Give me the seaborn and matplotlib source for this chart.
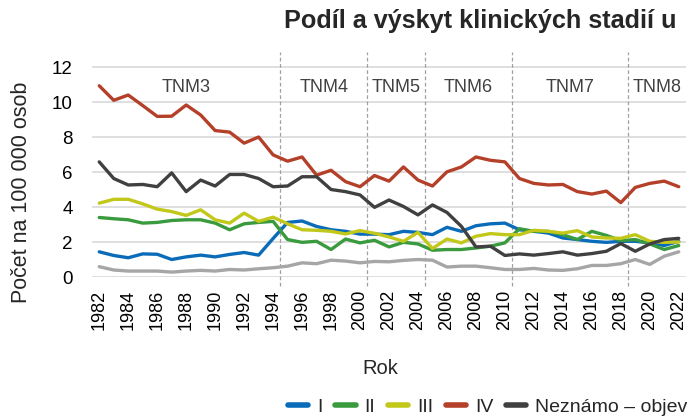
import matplotlib
matplotlib.use("Agg")
import matplotlib.pyplot as plt
import seaborn as sns
import pandas as pd
import numpy as np
from matplotlib.lines import Line2D

years = list(range(1982, 2023))

stage_I = [1.44, 1.23, 1.10, 1.32, 1.30, 1.00, 1.15, 1.25, 1.15, 1.29, 1.40, 1.25, 2.20, 3.12,
           3.20, 2.89, 2.70, 2.61, 2.45, 2.45, 2.42, 2.61, 2.55, 2.42, 2.84, 2.61, 2.93, 3.04,
           3.08, 2.70, 2.61, 2.51, 2.23, 2.14, 2.04, 1.98, 2.04, 2.04, 1.95, 1.80, 2.04]
stage_II = [3.40, 3.33, 3.27, 3.08, 3.12, 3.23, 3.27, 3.27, 3.08, 2.70, 3.04, 3.12, 3.18, 2.14,
            1.98, 2.04, 1.57, 2.17, 1.95, 2.10, 1.72, 1.98, 1.89, 1.53, 1.57, 1.57, 1.66, 1.76,
            1.95, 2.76, 2.61, 2.61, 2.42, 2.14, 2.61, 2.38, 2.08, 2.14, 1.89, 1.57, 1.80]
stage_III = [4.22, 4.44, 4.44, 4.18, 3.88, 3.74, 3.52, 3.84, 3.27, 3.08, 3.65, 3.18, 3.42, 3.04,
             2.70, 2.67, 2.61, 2.46, 2.65, 2.50, 2.29, 2.04, 2.55, 1.63, 2.17, 1.95, 2.33, 2.48,
             2.42, 2.42, 2.67, 2.61, 2.51, 2.65, 2.29, 2.23, 2.21, 2.42, 2.04, 1.98, 2.00]
stage_IV = [10.93, 10.10, 10.40, 9.80, 9.18, 9.19, 9.83, 9.26, 8.37, 8.28, 7.65, 8.00, 6.98, 6.62,
            6.86, 5.82, 6.10, 5.45, 5.16, 5.80, 5.48, 6.29, 5.54, 5.20, 6.01, 6.29, 6.86, 6.67,
            6.58, 5.63, 5.35, 5.26, 5.29, 4.88, 4.74, 4.91, 4.25, 5.12, 5.35, 5.48, 5.16]
unknown_a = [6.58, 5.63, 5.26, 5.29, 5.16, 5.95, 4.88, 5.54, 5.20, 5.86, 5.86, 5.63, 5.16, 5.20,
             5.73, 5.73, 5.00, 4.88, 4.69, 3.98, 4.40, 4.03, 3.55, 4.12, 3.69, 2.89, 1.72, 1.76,
             1.23, 1.32, 1.25, 1.34, 1.44, 1.25, 1.34, 1.47, 1.91, 1.47, 1.89, 2.14, 2.21]
unknown_b = [0.59, 0.40, 0.34, 0.34, 0.34, 0.28, 0.34, 0.38, 0.34, 0.43, 0.40, 0.47, 0.53, 0.62,
             0.81, 0.76, 0.96, 0.91, 0.81, 0.89, 0.87, 0.95, 1.00, 0.96, 0.57, 0.62, 0.62, 0.53,
             0.43, 0.43, 0.49, 0.40, 0.38, 0.47, 0.66, 0.66, 0.76, 1.00, 0.72, 1.19, 1.44]

series_names = ["I", "II", "III", "IV", "Neznámo – objeveno při pitvě", "Neznámo – ostatní"]
series_values = [stage_I, stage_II, stage_III, stage_IV, unknown_a, unknown_b]
colors = ["#0a6cb9", "#3a9a3e", "#c2c81a", "#b5402a", "#404040", "#a6a6a6"]

tnm_labels = ["TNM3", "TNM4", "TNM5", "TNM6", "TNM7", "TNM8"]
tnm_bounds = [1981.5, 1994.5, 2000.5, 2004.5, 2010.5, 2018.5, 2022.5]

title = "Podíl a výskyt klinických stadií u"
ylabel = "Počet na 100 000 osob"
xlabel = "Rok"

df = pd.concat([pd.DataFrame({"Rok": years, "Hodnota": v, "Stadium": n})
                for n, v in zip(series_names, series_values)], ignore_index=True)

sns.set_theme(style="white")
plt.rcParams["font.family"] = ["Liberation Sans", "DejaVu Sans"]

W, H = 688, 420
fig = plt.figure(figsize=(W / 100, H / 100), dpi=100)
ax = fig.add_axes([92 / W, 1 - 277 / H, 594 / W, 225 / H])

for yv in range(0, 13, 2):
    ax.axhline(yv, color="#d9d9d9", lw=1.2, zorder=0)

for b in tnm_bounds[1:-1]:
    ax.plot([b, b], [-0.5, 12.86], color="#a0a0a0", lw=0.9, ls=(0, (3, 2)),
            zorder=1, clip_on=False)

sns.lineplot(data=df, x="Rok", y="Hodnota", hue="Stadium", hue_order=series_names,
             palette=colors, linewidth=2.4, ax=ax, legend=False, zorder=3)

for lab, a, b in zip(tnm_labels, tnm_bounds[:-1], tnm_bounds[1:]):
    ax.text((a + b) / 2, 10.85, lab, ha="center", va="center", fontsize=13,
            color="#404040", clip_on=False)

ax.set_xlim(1981.5, 2022.5)
ax.set_ylim(0, 12.86)
ax.set_yticks(range(0, 13, 2))
ax.set_yticklabels([str(v) for v in range(0, 13, 2)], fontsize=13.5, color="#000000")
ax.set_xticks(years[::2])
ax.set_xticklabels([str(y) for y in years[::2]], rotation=90, fontsize=13, color="#000000")
ax.tick_params(axis="y", length=0, pad=14)
ax.tick_params(axis="x", length=0, pad=9)
ax.set_xlabel("")
ax.set_ylabel("")
for s in ax.spines.values():
    s.set_visible(False)

fig.text(380 / W, 1 - 368 / H, xlabel, ha="center", va="center", fontsize=14.5)
fig.text(22 / W, 1 - 192 / H, ylabel, ha="center", va="center", rotation=90, fontsize=15.5)
fig.text(284 / W, 1 - 21 / H, title, ha="left", va="center", fontsize=18.2, fontweight="bold")

handles = [Line2D([0], [0], color=c, lw=4) for c in colors]
fig.legend(handles, series_names, ncol=6, loc="center left",
           bbox_to_anchor=(288 / W, 1 - 407 / H), frameon=False, fontsize=14,
           handlelength=1.05, handletextpad=0.45, columnspacing=0.65, borderaxespad=0,
           borderpad=0)

fig.savefig("out.png", dpi=100)
